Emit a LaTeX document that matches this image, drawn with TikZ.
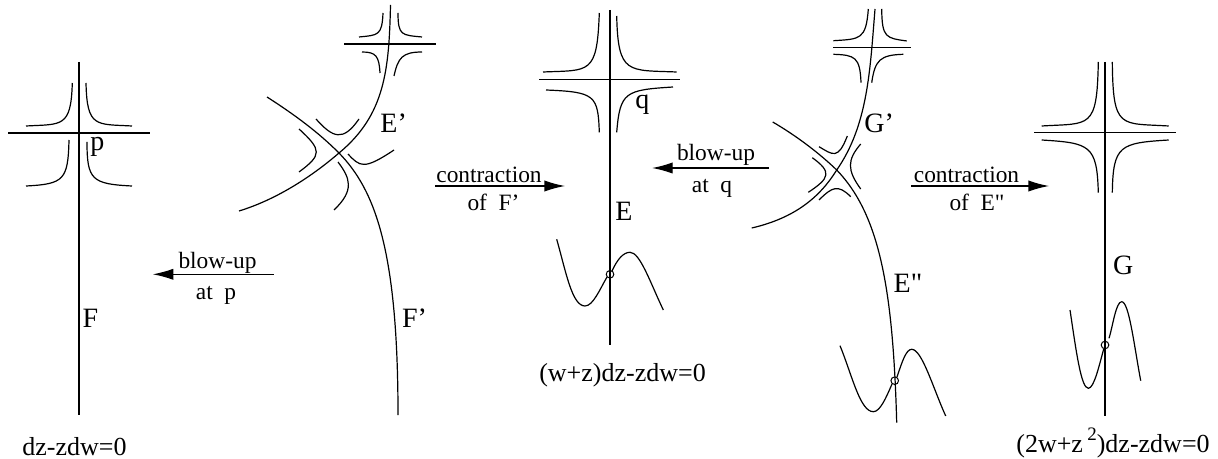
\documentclass[tikz,border=0pt]{standalone}
\usepackage{fontspec}
\setmainfont{Liberation Serif}[Ligatures=TeXOff]
\usetikzlibrary{arrows.meta}
\tikzset{
  curveline/.style={line width=0.6pt},
  blowarrow/.style={line width=0.6pt,-{Latex[length=10.3pt,width=5.6pt]}},
  curvelabel/.style={anchor=base west,inner sep=0pt,font=\fontsize{14}{16}\selectfont},
  arrowlabel/.style={anchor=base,inner sep=0pt,font=\fontsize{11.7}{14}\selectfont},
  equation/.style={anchor=base,inner sep=0pt,font=\fontsize{13}{15}\selectfont},
  basepoint/.style={circle,draw,line width=0.5pt,inner sep=0pt,minimum size=3.8pt}
}
\begin{document}
\begin{tikzpicture}[x=0.5pt,y=-0.5pt]
\useasboundingbox (0,0) rectangle (1218,459);

\draw[curveline] (79,62) -- (79,415);
\draw[curveline] (8,133) -- (150,133);
\draw[curveline] (72.3,83) .. controls (71,128) and (62,124) .. (26,126);
\draw[curveline] (86,83) .. controls (87,128) and (96,124) .. (132,126);
\draw[curveline] (69,140) .. controls (68,180) and (64,184) .. (26,186);
\draw[curveline] (87,142) .. controls (87,180) and (92,184) .. (132,186);
\node[curvelabel] (plabel) at (90,151) {p};
\node[curvelabel] (flabel) at (82.3,328) {F};
\node[equation] (eqone) at (74.5,455) {dz-zdw=0};

\coordinate (blowpstart) at (273.7,274.3);
\coordinate (blowpend) at (152.7,274.3);
\draw[blowarrow] (blowpstart) -- (blowpend);
\node[arrowlabel] (blowptop) at (217.5,268.3) {blow-up};
\node[arrowlabel] (blowpbot) at (216,299.3) {at~~p};

\draw[curveline] (390.5,5) .. controls (389,70) and (385,115) .. (339,153) .. controls (310,178) and (275,200) .. (239,211);
\draw[curveline] (267,97) .. controls (295,115) and (318,132) .. (339,153) .. controls (375,190) and (398,250) .. (398,415);
\draw[curveline] (344,44) -- (436,44);
\draw[curveline] (383,13) .. controls (382,36) and (378,35) .. (359,37);
\draw[curveline] (398,13) .. controls (398,36) and (402,35) .. (422,37);
\draw[curveline] (362,52) .. controls (376,52) and (379,56) .. (380,73);
\draw[curveline] (422,52) .. controls (402,52) and (398,58) .. (394,76);
\draw[curveline] (316,119) .. controls (333,138) and (343,142) .. (359,119);
\draw[curveline] (299,129) .. controls (322,150) and (322,155) .. (299,172);
\draw[curveline] (348,154) .. controls (360,167) and (364,170) .. (394,150);
\draw[curveline] (338,162) .. controls (350,178) and (355,190) .. (334,210);
\node[curvelabel] (eplabel) at (380,133) {E’};
\node[curvelabel] (fplabel) at (401.7,328) {F’};

\coordinate (contrfstart) at (435,186);
\coordinate (contrfend) at (565,186);
\draw[blowarrow] (contrfstart) -- (contrfend);
\node[arrowlabel] (contrftop) at (489,182.5) {contraction};
\node[arrowlabel] (contrfbot) at (493.5,211) {of~~F’};

\draw[curveline] (610,10) -- (610,345);
\draw[curveline] (539,79.5) -- (680,79.5);
\draw[curveline] (599.3,13) .. controls (597,75) and (590,70) .. (543,72);
\draw[curveline] (616.7,16) .. controls (618,75) and (628,70) .. (676.7,72);
\draw[curveline] (546,90) .. controls (595,92) and (598,95) .. (599.3,132.3);
\draw[curveline] (673,87) .. controls (625,90) and (620,92) .. (616.7,132.3);
\node[curvelabel] (qlabel) at (635,109) {q};
\node[curvelabel] (elabel) at (615,221) {E};
\node[basepoint] (pointe) at (610,274.3) {};
\draw[curveline] (556.7,239.3) .. controls (566,272) and (572,306) .. (585,306) .. controls (593,306) and (600,289) .. (607,277);
\draw[curveline] (612,271) .. controls (617,260) and (623,252.3) .. (630,252.3) .. controls (640,252.3) and (650,282) .. (663.3,310);
\node[equation] (eqtwo) at (622.5,381.7) {(w+z)dz-zdw=0};

\coordinate (blowqstart) at (769,168);
\coordinate (blowqend) at (652,168);
\draw[blowarrow] (blowqstart) -- (blowqend);
\node[arrowlabel] (blowqtop) at (716,160.7) {blow-up};
\node[arrowlabel] (blowqbot) at (712,192.7) {at~~q};

\draw[curveline] (875,9) .. controls (870,70) and (868,125) .. (836.7,170) .. controls (820,197) and (795,218) .. (751.7,228);
\draw[curveline] (772.7,122) .. controls (795,135) and (818,152) .. (836.7,170) .. controls (880,215) and (893,290) .. (896.7,422.7);
\draw[curveline] (833,47.7) -- (910.7,47.7);
\draw[curveline] (868.3,9) .. controls (866,40) and (860,39) .. (833.3,40.7);
\draw[curveline] (881.7,9) .. controls (882,38) and (886,38) .. (906.7,41);
\draw[curveline] (833.3,54.3) .. controls (855,55) and (860,57) .. (861,82.7);
\draw[curveline] (903.3,54.3) .. controls (880,55) and (875,60) .. (871.7,82.7);
\draw[curveline] (819,146.7) .. controls (833,155) and (838,160) .. (847.3,136);
\draw[curveline] (812.3,157.7) .. controls (832,172) and (830,178) .. (808.3,192.3);
\draw[curveline] (860.7,144) .. controls (847,160) and (847,170) .. (860.7,189);
\draw[curveline] (819,200) .. controls (832,187) and (838,184) .. (850.7,196.7);
\node[curvelabel] (gplabel) at (864,133) {G’};
\node[curvelabel] (eslabel) at (893.3,292.3) {E"};
\node[basepoint] (pointes) at (894.7,380.7) {};
\draw[curveline] (840,345.7) .. controls (852,375) and (860,411.7) .. (873.3,411.7) .. controls (880,411.7) and (886,398) .. (892,384);
\draw[curveline] (897,377) .. controls (902,362) and (906,349.3) .. (911.7,349.3) .. controls (922,349.3) and (933,388) .. (945.7,416);

\coordinate (contrestart) at (911,186);
\coordinate (contreend) at (1049,186);
\draw[blowarrow] (contrestart) -- (contreend);
\node[arrowlabel] (contretop) at (966.5,182.7) {contraction};
\node[arrowlabel] (contrebot) at (977,210.7) {of~~E"};

\draw[curveline] (1105,62) -- (1105,415.7);
\draw[curveline] (1034,132.7) -- (1176,132.7);
\draw[curveline] (1098.3,62) .. controls (1097,130) and (1090,123) .. (1041.7,126);
\draw[curveline] (1112.3,62) .. controls (1113,130) and (1120,123) .. (1168.7,126);
\draw[curveline] (1041.7,140) .. controls (1090,143) and (1097,145) .. (1098.3,192.7);
\draw[curveline] (1168.7,140) .. controls (1120,143) and (1113,145) .. (1112.3,192.7);
\node[curvelabel] (glabel) at (1112.7,275) {G};
\node[basepoint] (pointg) at (1105,345) {};
\draw[curveline] (1070,310) .. controls (1076,350) and (1081,388.3) .. (1088.3,388.3) .. controls (1094,388.3) and (1099,366) .. (1103.7,349);
\draw[curveline] (1109,338.3) .. controls (1113,325) and (1116,301.7) .. (1121.7,301.7) .. controls (1129,301.7) and (1134,345) .. (1140.7,380.7);
\node[equation] (eqthree) at (1113,452.7) {(2w+z\,\raisebox{6pt}{\fontsize{9.5}{10}\selectfont 2})dz-zdw=0};
\end{tikzpicture}
\end{document}
